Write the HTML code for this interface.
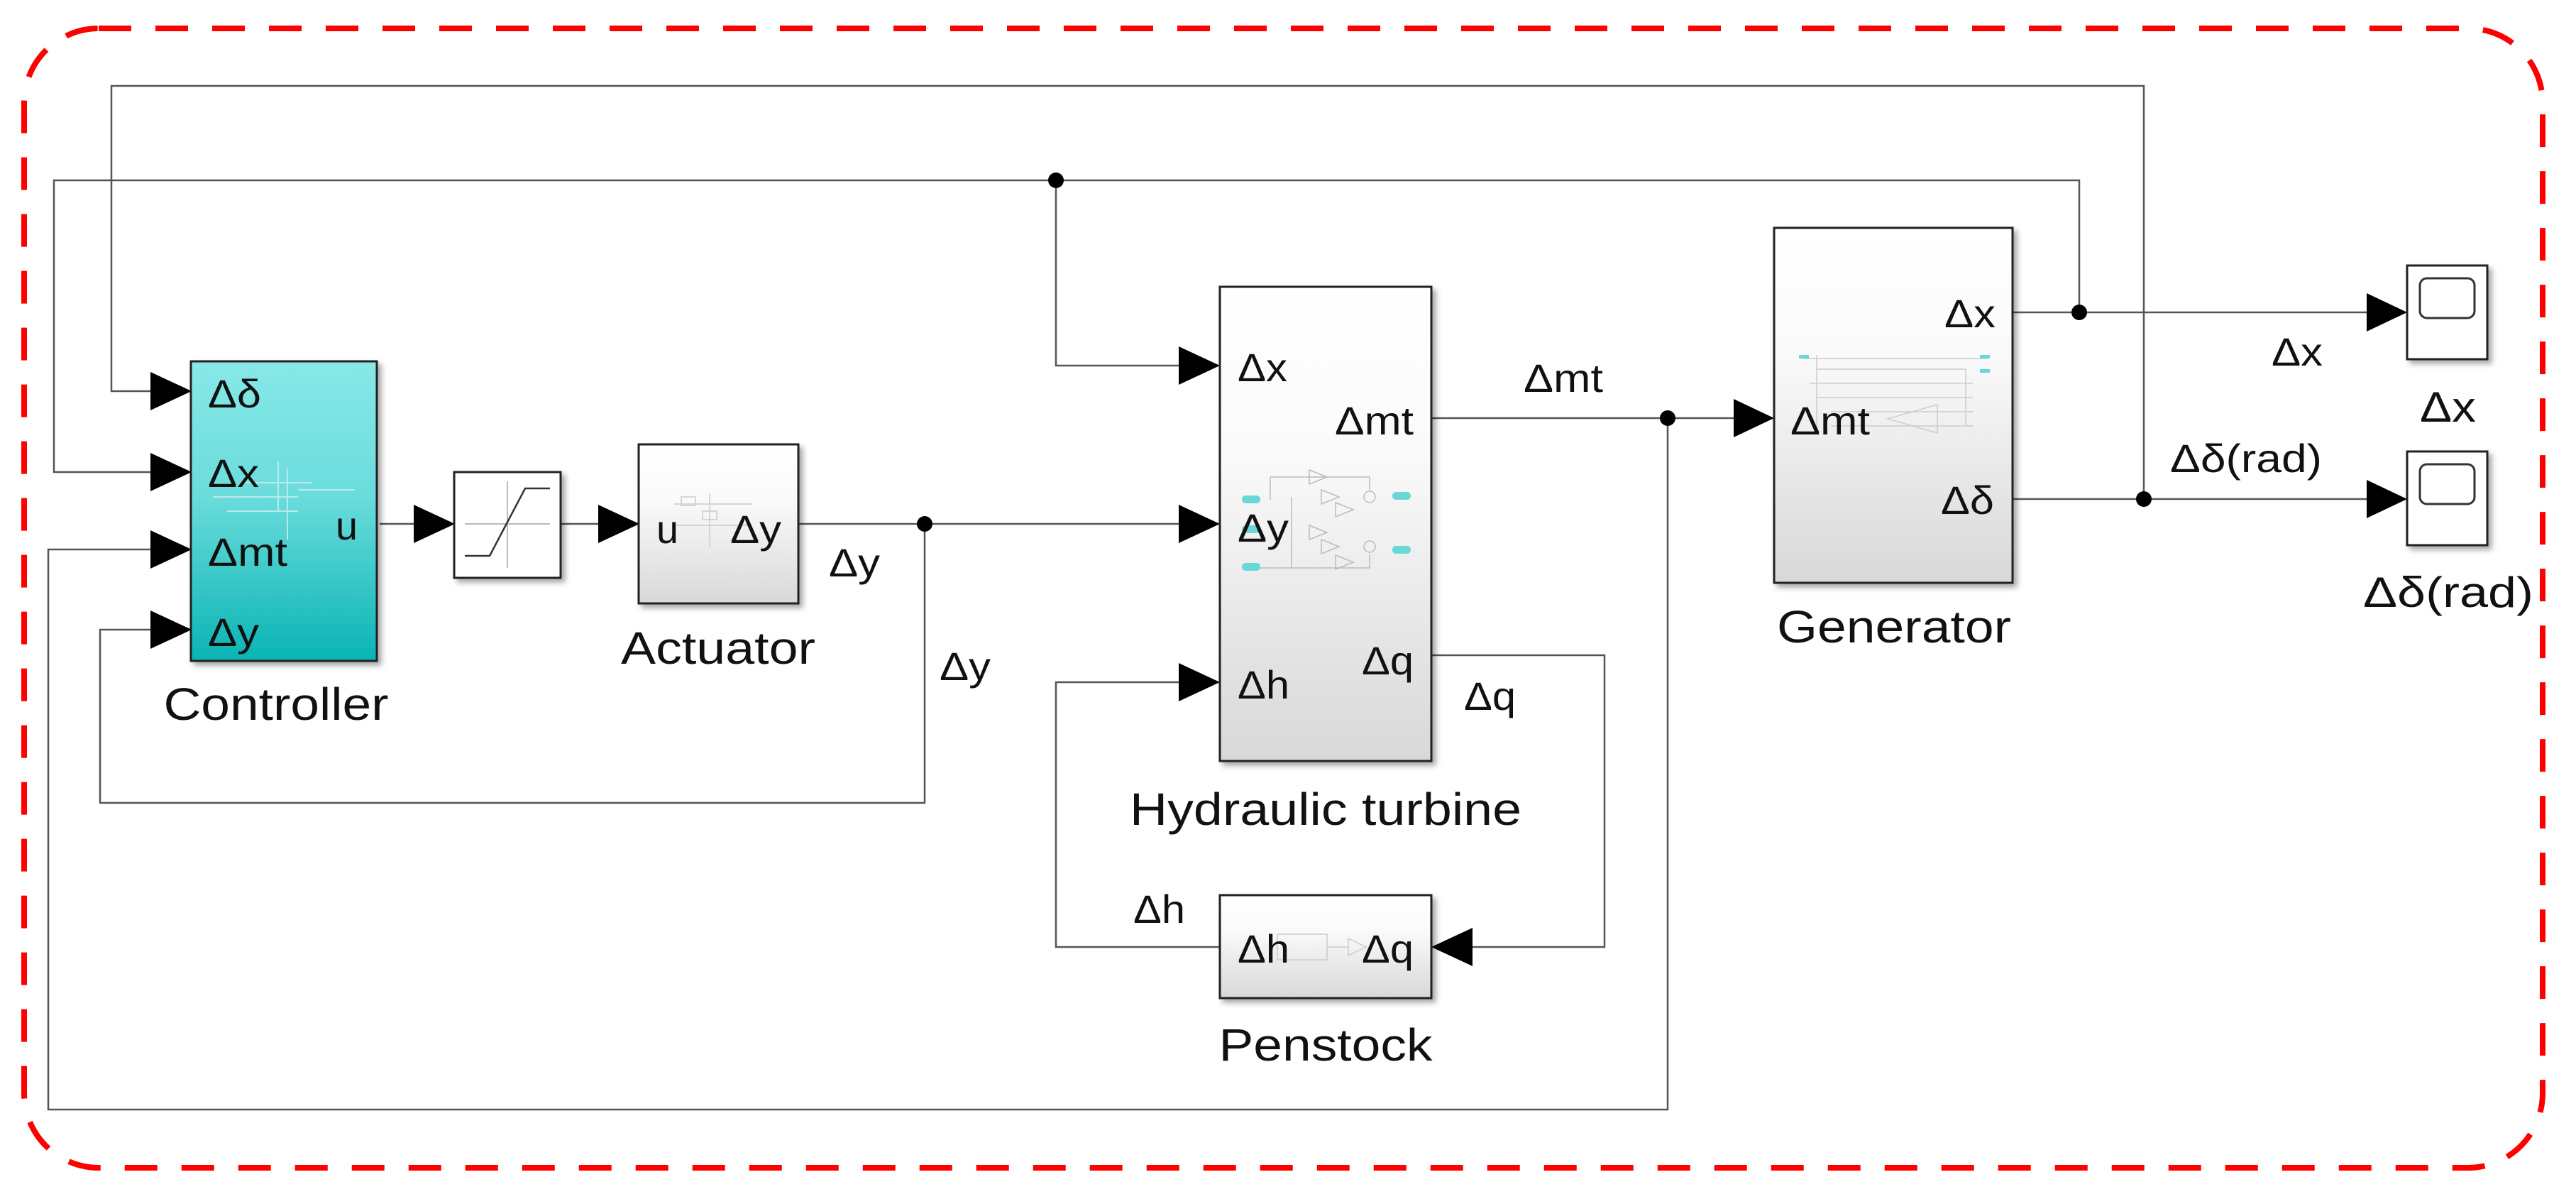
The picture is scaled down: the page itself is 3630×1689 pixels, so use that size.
<!DOCTYPE html>
<html><head><meta charset="utf-8"><style>
html,body{margin:0;padding:0;background:#fff;}
svg{display:block;}
text{font-family:"Liberation Sans",sans-serif;fill:#111;}
</style></head><body>
<svg width="3630" height="1689" viewBox="0 0 3630 1689" xmlns="http://www.w3.org/2000/svg">
<defs>
<linearGradient id="teal" x1="0" y1="0" x2="0" y2="1"><stop offset="0" stop-color="#88e8e8"/><stop offset="0.45" stop-color="#6adcdc"/><stop offset="1" stop-color="#0ab4b4"/></linearGradient>
<linearGradient id="gray" x1="0" y1="0" x2="0" y2="1"><stop offset="0" stop-color="#ffffff"/><stop offset="0.35" stop-color="#fafafa"/><stop offset="1" stop-color="#d8d8d8"/></linearGradient>
<filter id="sh" x="-10%" y="-10%" width="130%" height="130%"><feDropShadow dx="5" dy="5" stdDeviation="4" flood-color="#000" flood-opacity="0.35"/></filter>
</defs>
<rect x="34" y="40" width="3549" height="1605" rx="105" ry="105" fill="none" stroke="#ff0000" stroke-width="8" stroke-dasharray="46,34"/>

<g fill="none" stroke="#555" stroke-width="2.5">
<polyline points="3021,703 3021,121 157,121 157,551 212,551"/>
<polyline points="2930,440 2930,254 76,254 76,665 212,665"/>
<polyline points="1488,254 1488,515 1661,515"/>
<polyline points="2350,589 2350,1563 68,1563 68,774 212,774"/>
<polyline points="1303,738 1303,1131 141,1131 141,887 212,887"/>
<line x1="535" y1="738" x2="583" y2="738"/>
<line x1="790" y1="738" x2="843" y2="738"/>
<line x1="1125" y1="738" x2="1661" y2="738"/>
<line x1="2017" y1="589" x2="2443" y2="589"/>
<polyline points="2017,923 2261,923 2261,1334 2075,1334"/>
<polyline points="1719,1334 1488,1334 1488,961 1661,961"/>
<line x1="2836" y1="440" x2="3335" y2="440"/>
<line x1="2836" y1="703" x2="3335" y2="703"/>
</g>

<g fill="#000">
<circle cx="1488" cy="254" r="11"/>
<circle cx="1303" cy="738" r="11"/>
<circle cx="2350" cy="589" r="11"/>
<circle cx="2930" cy="440" r="11"/>
<circle cx="3021" cy="703" r="11"/>
</g>

<g fill="#000">
<polygon points="212,524 270,551 212,578"/>
<polygon points="212,638 270,665 212,692"/>
<polygon points="212,747 270,774 212,801"/>
<polygon points="212,860 270,887 212,914"/>
<polygon points="583,711 641,738 583,765"/>
<polygon points="843,711 901,738 843,765"/>
<polygon points="1661,488 1719,515 1661,542"/>
<polygon points="1661,711 1719,738 1661,765"/>
<polygon points="1661,934 1719,961 1661,988"/>
<polygon points="2075,1307 2017,1334 2075,1361"/>
<polygon points="2443,562 2500,589 2443,616"/>
<polygon points="3335,413 3392,440 3335,467"/>
<polygon points="3335,676 3392,703 3335,730"/>
</g>

<!-- Controller -->
<rect x="269" y="509" width="262" height="422" fill="url(#teal)" stroke="#222" stroke-width="3" filter="url(#sh)"/>
<g stroke="#cfeeee" stroke-width="2" fill="none" opacity="0.8">
<line x1="300" y1="700" x2="420" y2="700"/><line x1="320" y1="720" x2="420" y2="720"/><line x1="340" y1="680" x2="440" y2="680"/>
<line x1="392" y1="650" x2="392" y2="720"/><line x1="405" y1="660" x2="405" y2="760"/><line x1="420" y1="690" x2="500" y2="690"/>
</g>
<g font-size="56" lengthAdjust="spacingAndGlyphs">
<text x="293" y="574" textLength="75" lengthAdjust="spacingAndGlyphs">Δδ</text>
<text x="293" y="686" textLength="72" lengthAdjust="spacingAndGlyphs">Δx</text>
<text x="293" y="797" textLength="112" lengthAdjust="spacingAndGlyphs">Δmt</text>
<text x="293" y="910" textLength="72" lengthAdjust="spacingAndGlyphs">Δy</text>
<text x="473" y="760" textLength="31" lengthAdjust="spacingAndGlyphs">u</text>
</g>
<text x="389" y="1014" font-size="64" text-anchor="middle" textLength="317" lengthAdjust="spacingAndGlyphs">Controller</text>

<!-- Saturation -->
<rect x="640" y="665" width="150" height="149" fill="#fff" stroke="#222" stroke-width="3" filter="url(#sh)"/>
<line x1="655" y1="738" x2="775" y2="738" stroke="#bbb" stroke-width="2"/>
<line x1="715" y1="678" x2="715" y2="800" stroke="#bbb" stroke-width="2"/>
<polyline points="655,783 690,783 740,688 775,688" fill="none" stroke="#333" stroke-width="2.5"/>

<!-- Actuator -->
<rect x="900" y="626" width="225" height="224" fill="url(#gray)" stroke="#222" stroke-width="3" filter="url(#sh)"/>
<g stroke="#ccc" stroke-width="1.5" fill="none"><rect x="960" y="700" width="20" height="12"/><rect x="990" y="720" width="20" height="12"/><line x1="950" y1="710" x2="1060" y2="710"/><line x1="950" y1="740" x2="1060" y2="740"/><line x1="1000" y1="695" x2="1000" y2="770"/></g>
<text x="925" y="765" font-size="56" textLength="31" lengthAdjust="spacingAndGlyphs">u</text>
<text x="1029" y="765" font-size="56" textLength="72" lengthAdjust="spacingAndGlyphs">Δy</text>
<text x="1012" y="935" font-size="64" text-anchor="middle" textLength="274" lengthAdjust="spacingAndGlyphs">Actuator</text>
<text x="1168" y="812" font-size="56" textLength="72" lengthAdjust="spacingAndGlyphs">Δy</text>
<text x="1324" y="958" font-size="56" textLength="72" lengthAdjust="spacingAndGlyphs">Δy</text>

<!-- Hydraulic turbine -->
<rect x="1719" y="404" width="298" height="668" fill="url(#gray)" stroke="#222" stroke-width="3" filter="url(#sh)"/>
<g stroke="#bbb" stroke-width="1.5" fill="none">
<polyline points="1790,704 1790,672 1930,672 1930,690"/><polyline points="1820,700 1820,800 1930,800 1930,780"/>
<polygon points="1845,662 1870,672 1845,682"/><polygon points="1862,690 1887,700 1862,710"/><polygon points="1882,708 1907,718 1882,728"/>
<polygon points="1845,740 1870,750 1845,760"/><polygon points="1862,760 1887,770 1862,780"/><polygon points="1882,782 1907,792 1882,802"/>
<circle cx="1930" cy="700" r="8"/><circle cx="1930" cy="770" r="8"/>
<line x1="1770" y1="800" x2="1820" y2="800"/>
</g>
<g fill="#6ad8d8"><rect x="1750" y="698" width="26" height="11" rx="5"/><rect x="1750" y="793" width="26" height="11" rx="5"/><rect x="1962" y="693" width="26" height="11" rx="5"/><rect x="1962" y="769" width="26" height="11" rx="5"/><rect x="1750" y="740" width="26" height="11" rx="5"/></g>
<text x="1744" y="537" font-size="56" textLength="70" lengthAdjust="spacingAndGlyphs">Δx</text>
<text x="1881" y="612" font-size="56" textLength="111" lengthAdjust="spacingAndGlyphs">Δmt</text>
<text x="1744" y="763" font-size="56" textLength="72" lengthAdjust="spacingAndGlyphs">Δy</text>
<text x="1919" y="950" font-size="56" textLength="73" lengthAdjust="spacingAndGlyphs">Δq</text>
<text x="1744" y="984" font-size="56" textLength="73" lengthAdjust="spacingAndGlyphs">Δh</text>
<text x="1868" y="1162" font-size="64" text-anchor="middle" textLength="552" lengthAdjust="spacingAndGlyphs">Hydraulic turbine</text>
<text x="2147" y="552" font-size="56" textLength="112" lengthAdjust="spacingAndGlyphs">Δmt</text>
<text x="2063" y="1000" font-size="56" textLength="73" lengthAdjust="spacingAndGlyphs">Δq</text>
<text x="1597" y="1300" font-size="56" textLength="73" lengthAdjust="spacingAndGlyphs">Δh</text>

<!-- Penstock -->
<rect x="1719" y="1261" width="298" height="145" fill="url(#gray)" stroke="#222" stroke-width="3" filter="url(#sh)"/>
<g stroke="#ccc" stroke-width="1.5" fill="none"><rect x="1800" y="1316" width="70" height="36"/><line x1="1870" y1="1334" x2="1900" y2="1334"/><polygon points="1900,1322 1925,1334 1900,1346"/></g>
<text x="1744" y="1356" font-size="56" textLength="73" lengthAdjust="spacingAndGlyphs">Δh</text>
<text x="1919" y="1356" font-size="56" textLength="73" lengthAdjust="spacingAndGlyphs">Δq</text>
<text x="1868" y="1494" font-size="64" text-anchor="middle" textLength="301" lengthAdjust="spacingAndGlyphs">Penstock</text>

<!-- Generator -->
<rect x="2500" y="321" width="336" height="500" fill="url(#gray)" stroke="#222" stroke-width="3" filter="url(#sh)"/>
<g stroke="#ccc" stroke-width="1.5" fill="none">
<line x1="2540" y1="505" x2="2800" y2="505"/><line x1="2560" y1="520" x2="2770" y2="520"/><line x1="2550" y1="540" x2="2780" y2="540"/>
<line x1="2560" y1="560" x2="2780" y2="560"/><line x1="2580" y1="580" x2="2780" y2="580"/><line x1="2580" y1="600" x2="2780" y2="600"/>
<line x1="2560" y1="500" x2="2560" y2="610"/><line x1="2770" y1="520" x2="2770" y2="600"/>
<polygon points="2660,590 2730,570 2730,610"/>
</g>
<g fill="#6ad8d8"><rect x="2535" y="500" width="14" height="5"/><rect x="2790" y="500" width="14" height="5"/><rect x="2790" y="520" width="14" height="5"/></g>
<text x="2523" y="612" font-size="56" textLength="112" lengthAdjust="spacingAndGlyphs">Δmt</text>
<text x="2740" y="461" font-size="56" textLength="72" lengthAdjust="spacingAndGlyphs">Δx</text>
<text x="2735" y="724" font-size="56" textLength="75" lengthAdjust="spacingAndGlyphs">Δδ</text>
<text x="2669" y="905" font-size="64" text-anchor="middle" textLength="330" lengthAdjust="spacingAndGlyphs">Generator</text>

<!-- Scopes -->
<rect x="3392" y="374" width="113" height="132" fill="#fff" stroke="#222" stroke-width="3" filter="url(#sh)"/>
<rect x="3410" y="392" width="77" height="56" rx="10" fill="#fff" stroke="#333" stroke-width="3"/>
<rect x="3392" y="636" width="113" height="132" fill="#fff" stroke="#222" stroke-width="3" filter="url(#sh)"/>
<rect x="3410" y="654" width="77" height="56" rx="10" fill="#fff" stroke="#333" stroke-width="3"/>
<text x="3201" y="515" font-size="56" textLength="72" lengthAdjust="spacingAndGlyphs">Δx</text>
<text x="3058" y="665" font-size="56" textLength="214" lengthAdjust="spacingAndGlyphs">Δδ(rad)</text>
<text x="3410" y="594" font-size="60" textLength="79" lengthAdjust="spacingAndGlyphs">Δx</text>
<text x="3330" y="855" font-size="60" textLength="240" lengthAdjust="spacingAndGlyphs">Δδ(rad)</text>
</svg>
</body></html>
